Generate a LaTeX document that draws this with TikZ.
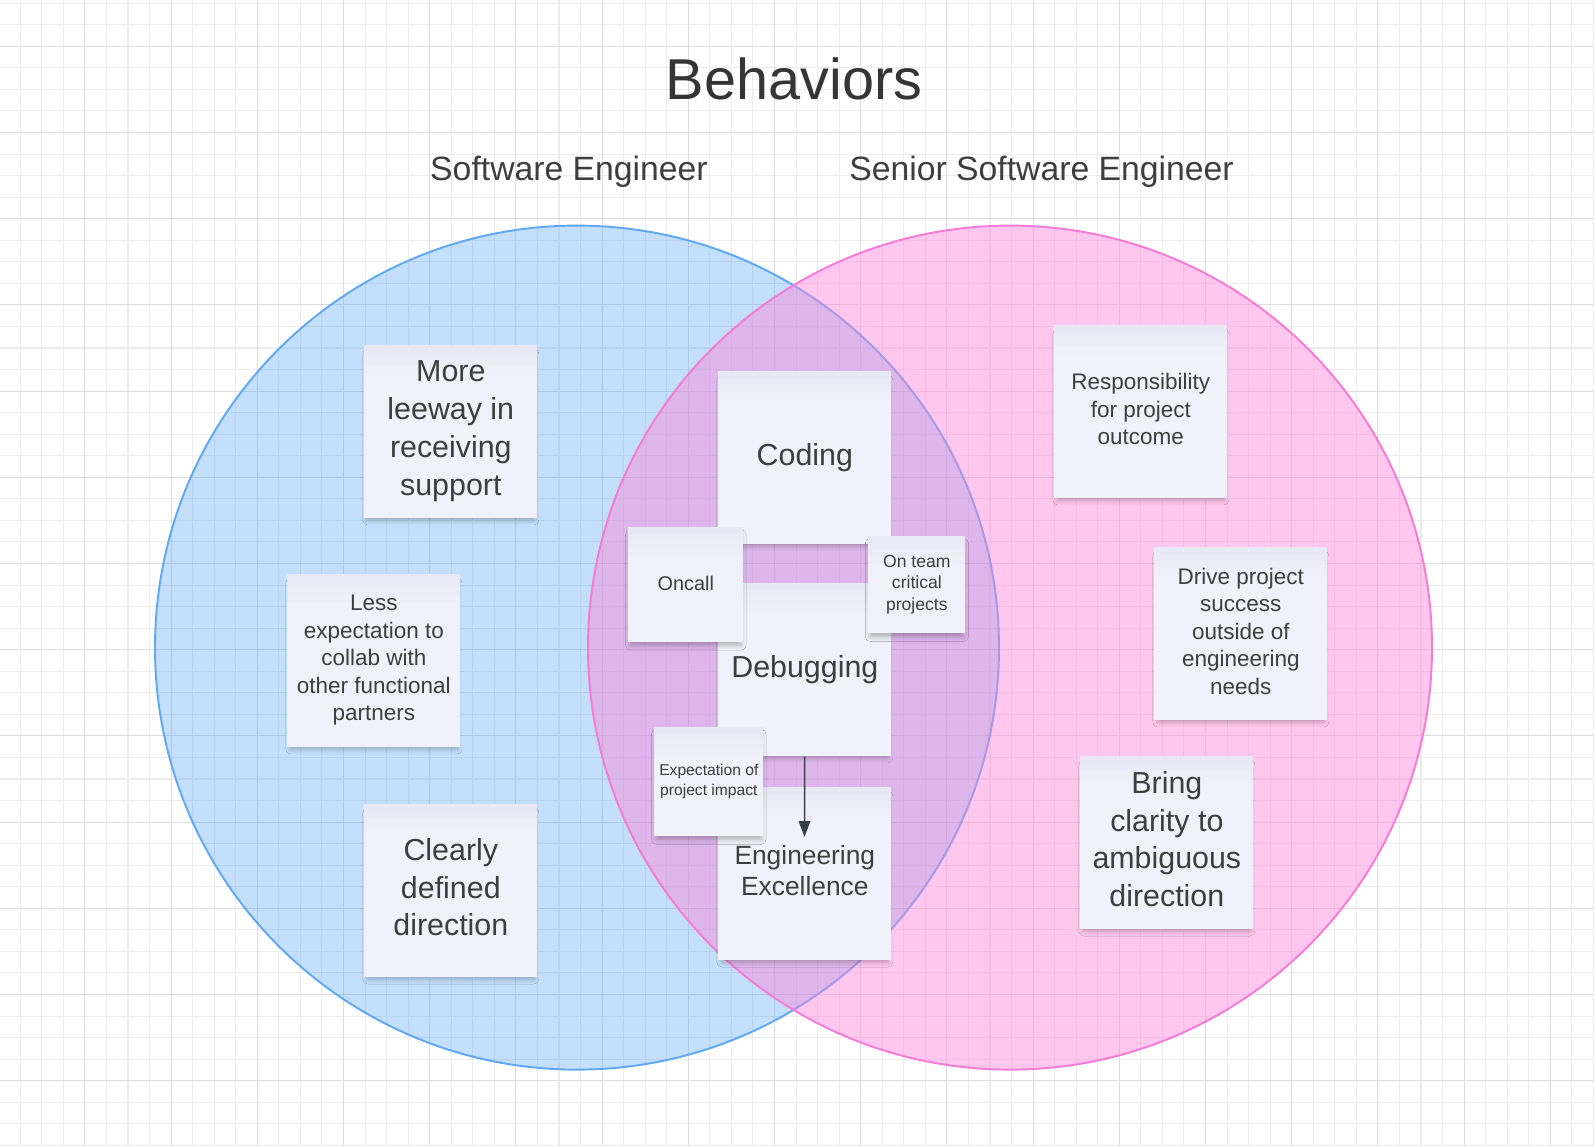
\documentclass[tikz,border=0pt]{standalone}
\usepackage{fontspec}
\setmainfont{Liberation Sans}
\usetikzlibrary{arrows.meta}
\usetikzlibrary{shadows.blur}

\definecolor{gridminor}{RGB}{236,236,236}
\definecolor{gridmajor}{RGB}{221,221,221}
\definecolor{seblue}{RGB}{58,152,245}
\definecolor{seborder}{RGB}{95,168,245}
\definecolor{ssepink}{RGB}{255,133,217}
\definecolor{sseborder}{RGB}{246,122,214}
\definecolor{notefill}{RGB}{241,241,252}
\definecolor{notetop}{RGB}{225,225,240}
\definecolor{inktext}{RGB}{62,62,62}
\definecolor{arrowink}{RGB}{55,62,72}

\def\px{0.569055pt}
\newcommand{\notestrut}{\rule[-0.2\baselineskip]{0pt}{\baselineskip}}

\begin{document}
\begin{tikzpicture}[x=0.02cm,y=-0.02cm,
minor/.style={draw=gridminor,line width=0.6pt},
major/.style={draw=gridmajor,line width=0.6pt},
note/.style={anchor=north west,inner sep=0pt,align=center,text=inktext,fill=notefill,
  minimum width=#1*\px,minimum height=#1*\px,
  execute at begin node=\notestrut,execute at end node=\notestrut,
  blur shadow={shadow xshift=0pt,shadow yshift=-3pt,shadow scale=0.96,shadow blur radius=3pt,shadow opacity=28},
  path picture={\foreach \h in {4,8,12,16}
    \fill[notetop,opacity=0.12] (path picture bounding box.north west) rectangle ([yshift=-\h pt]path picture bounding box.north east);}},
note/.default=173,
oneline/.style={execute at begin node={},execute at end node={},align=none,text depth=#1},
huge/.style={font=\fontsize{17.3}{21.5}\selectfont},
mid/.style={font=\fontsize{12.8}{15.65}\selectfont},
link/.style={draw=arrowink,line width=0.8pt,-{Triangle[length=9pt,width=6.5pt]}}]

\useasboundingbox (0,0) rectangle (1594,1146);
\fill[white] (0,0) rectangle (1594,1146);
\foreach \i in {0,...,74} \draw[minor] ({-1.3+21.55*\i},0) -- ({-1.3+21.55*\i},1146);
\foreach \j in {0,...,53} \draw[minor] (0,{3.2+21.55*\j}) -- (1594,{3.2+21.55*\j});
\foreach \i in {0,...,18} \draw[major] ({-1.3+86.2*\i},0) -- ({-1.3+86.2*\i},1146);
\foreach \j in {0,...,13} \draw[major] (0,{46.3+86.2*\j}) -- (1594,{46.3+86.2*\j});

\draw[draw=seborder,line width=1.1pt,fill=seblue,fill opacity=0.3] (577,647.6) circle[radius=422];
\draw[draw=sseborder,line width=1.1pt,fill=ssepink,fill opacity=0.45] (1010,647.6) circle[radius=422];

\node[anchor=base,text=inktext!85!black,font=\fontsize{32.8}{38}\selectfont] (title) at (794,99) {Behaviors};
\node[anchor=base,text=inktext,font=\fontsize{19.2}{23}\selectfont] (swe) at (569,180) {Software Engineer};
\node[anchor=base,text=inktext,font=\fontsize{19.2}{23}\selectfont] (senior) at (1041.5,180) {Senior Software Engineer};

\node[note,huge] (leeway) at (364,345) {More\\leeway in\\receiving\\support};
\node[note,mid] (collab) at (287,574) {Less\\expectation to\\collab with\\other functional\\partners};
\node[note,huge] (clearly) at (364,804) {Clearly\\defined\\direction};

\node[note,oneline=8.2pt,huge] (coding) at (718,371) {Coding};
\node[note,oneline=8.2pt,huge] (debug) at (718,583) {Debugging};
\node[note,font=\fontsize{15}{17.9}\selectfont] (excel) at (718,787) {Engineering\\Excellence};
\node[note=115,oneline=4pt,font=\fontsize{11.3}{13.6}\selectfont] (oncall) at (628,527) {Oncall};
\node[note=97,font=\fontsize{10}{12.1}\selectfont] (critical) at (868,536) {On team\\critical\\projects};
\node[note=109,font=\fontsize{8.9}{11}\selectfont] (impact) at (654,727) {Expectation of\\project impact};

\node[note,mid] (outcome) at (1054,325) {Responsibility\\for project\\outcome};
\node[note,mid] (success) at (1154,547) {Drive project\\success\\outside of\\engineering\\needs};
\node[note,huge] (clarity) at (1080,756) {Bring\\clarity to\\ambiguous\\direction};

\coordinate (tip) at (804.5,837);
\draw[link] (debug) -- (tip);
\end{tikzpicture}
\end{document}
